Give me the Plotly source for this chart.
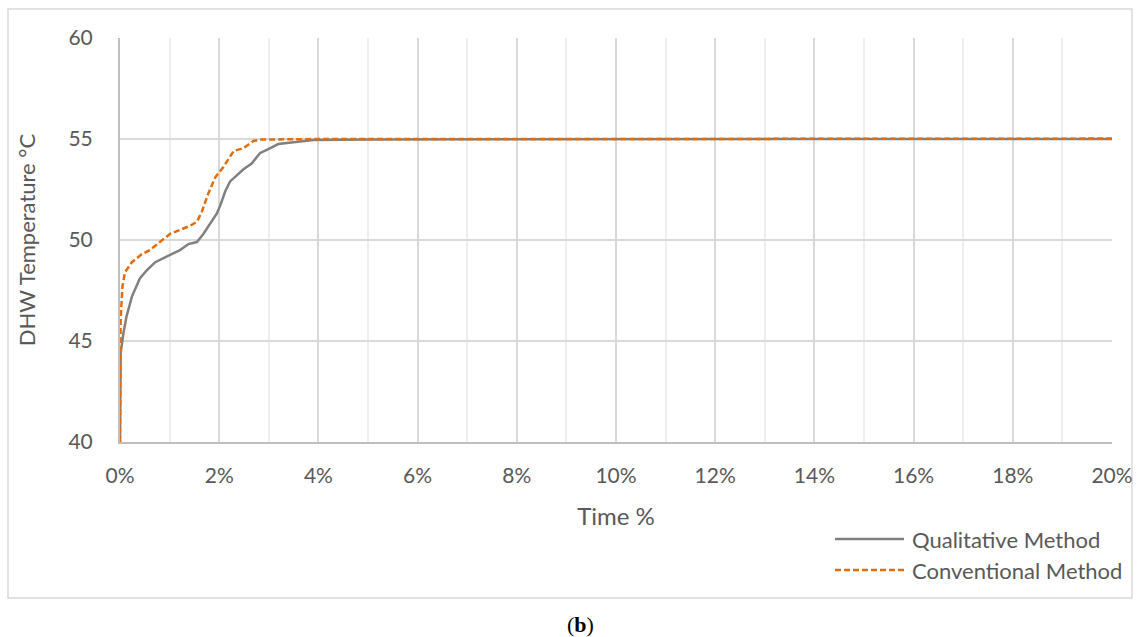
import plotly.graph_objects as go

# Time in % of period, DHW temperature in °C
qual_time = [0, 0.013, 0.07, 0.13, 0.24, 0.40, 0.54, 0.71, 1.04, 1.21, 1.38, 1.55, 1.68, 1.82,
             1.95, 2.02, 2.12, 2.22, 2.35, 2.49, 2.66, 2.82, 2.99, 3.19, 3.5, 3.9, 5, 10, 15, 20]
qual_temp = [40, 44.4, 45.4, 46.2, 47.2, 48.1, 48.5, 48.9, 49.3, 49.5, 49.8, 49.9, 50.3, 50.8,
             51.3, 51.7, 52.4, 52.9, 53.2, 53.5, 53.8, 54.3, 54.5, 54.75, 54.84, 54.95, 54.98, 55, 55, 55]

conv_time = [0, 0.005, 0.013, 0.05, 0.1, 0.24, 0.44, 0.6, 0.81, 1.01, 1.21, 1.41, 1.55, 1.65,
             1.78, 1.92, 2.08, 2.29, 2.49, 2.69, 2.82, 4, 10, 15, 20]
conv_temp = [40, 42.8, 46.1, 47.7, 48.4, 48.9, 49.3, 49.5, 49.9, 50.3, 50.5, 50.7, 50.9, 51.4,
             52.3, 53.1, 53.6, 54.4, 54.55, 54.9, 54.97, 55, 55, 55, 55.02]

series_names = ["Qualitative Method", "Conventional Method"]
series_colors = ["#808080", "#E46C0A"]
series_dash = ["solid", "6px,3px"]

FONT = "Lato"
GRAY = "#595959"

fig = go.Figure()
fig.add_trace(go.Scatter(x=qual_time, y=qual_temp, mode="lines", name=series_names[0],
                         line=dict(color=series_colors[0], width=2.5, dash=series_dash[0]),
                         showlegend=False))
fig.add_trace(go.Scatter(x=conv_time, y=conv_temp, mode="lines", name=series_names[1],
                         line=dict(color=series_colors[1], width=2.5, dash=series_dash[1]),
                         showlegend=False))

W, H = 1140, 637
L, R, T, B = 120, 28, 38, 195
pw, ph = W - L - R, H - T - B

def px(x):
    return (x - L) / pw

def py(y):
    return (H - B - y) / ph

shapes = [
    dict(type="rect", xref="paper", yref="paper", x0=px(8), x1=px(1132), y0=py(9), y1=py(598),
         line=dict(color="#d9d9d9", width=1.5), layer="below"),
]
annotations = []
legend_y = [539, 570]
for name, color, yy, dash in zip(series_names, series_colors, legend_y, series_dash):
    shapes.append(dict(type="line", xref="paper", yref="paper", x0=px(835), x1=px(904),
                       y0=py(yy), y1=py(yy), line=dict(color=color, width=2.5, dash=dash)))
    annotations.append(dict(text=name, xref="paper", yref="paper", x=px(910), y=py(yy),
                            xanchor="left", yanchor="middle", showarrow=False,
                            font=dict(family=FONT, size=22, color=GRAY)))

annotations.append(dict(text="(<b>b</b>)", xref="paper", yref="paper", x=px(580), y=py(624),
                        xanchor="center", yanchor="middle", showarrow=False,
                        font=dict(family="Liberation Serif", size=22, color="#000000")))

fig.update_layout(
    width=W, height=H,
    margin=dict(l=L, r=R, t=T, b=B),
    paper_bgcolor="white", plot_bgcolor="white",
    font=dict(family=FONT, color=GRAY, size=21),
    shapes=shapes, annotations=annotations,
    xaxis=dict(range=[0, 20], dtick=2, tick0=0, ticksuffix="%", showgrid=True,
               gridcolor="#d9d9d9", gridwidth=1.5, automargin=False,
               minor=dict(dtick=1, showgrid=True, gridcolor="#eeeeee", gridwidth=1.5),
               showline=True, linecolor="#bfbfbf", linewidth=2, zeroline=False,
               ticks="", ticklabelstandoff=14,
               tickfont=dict(family=FONT, size=21, color=GRAY),
               title=dict(text="Time %", standoff=22, font=dict(family=FONT, size=24, color=GRAY))),
    yaxis=dict(range=[40, 60], dtick=5, showgrid=True, gridcolor="#d9d9d9", gridwidth=1.5,
               showline=True, linecolor="#bfbfbf", linewidth=2, zeroline=False, automargin=False,
               ticks="", ticklabelstandoff=21,
               tickfont=dict(family=FONT, size=21, color=GRAY),
               title=dict(text="DHW Temperature °C", standoff=27,
                          font=dict(family=FONT, size=22, color=GRAY))),
)

fig.write_html("out.html", config={"displayModeBar": False},
               post_script="document.body.style.margin='0';")
